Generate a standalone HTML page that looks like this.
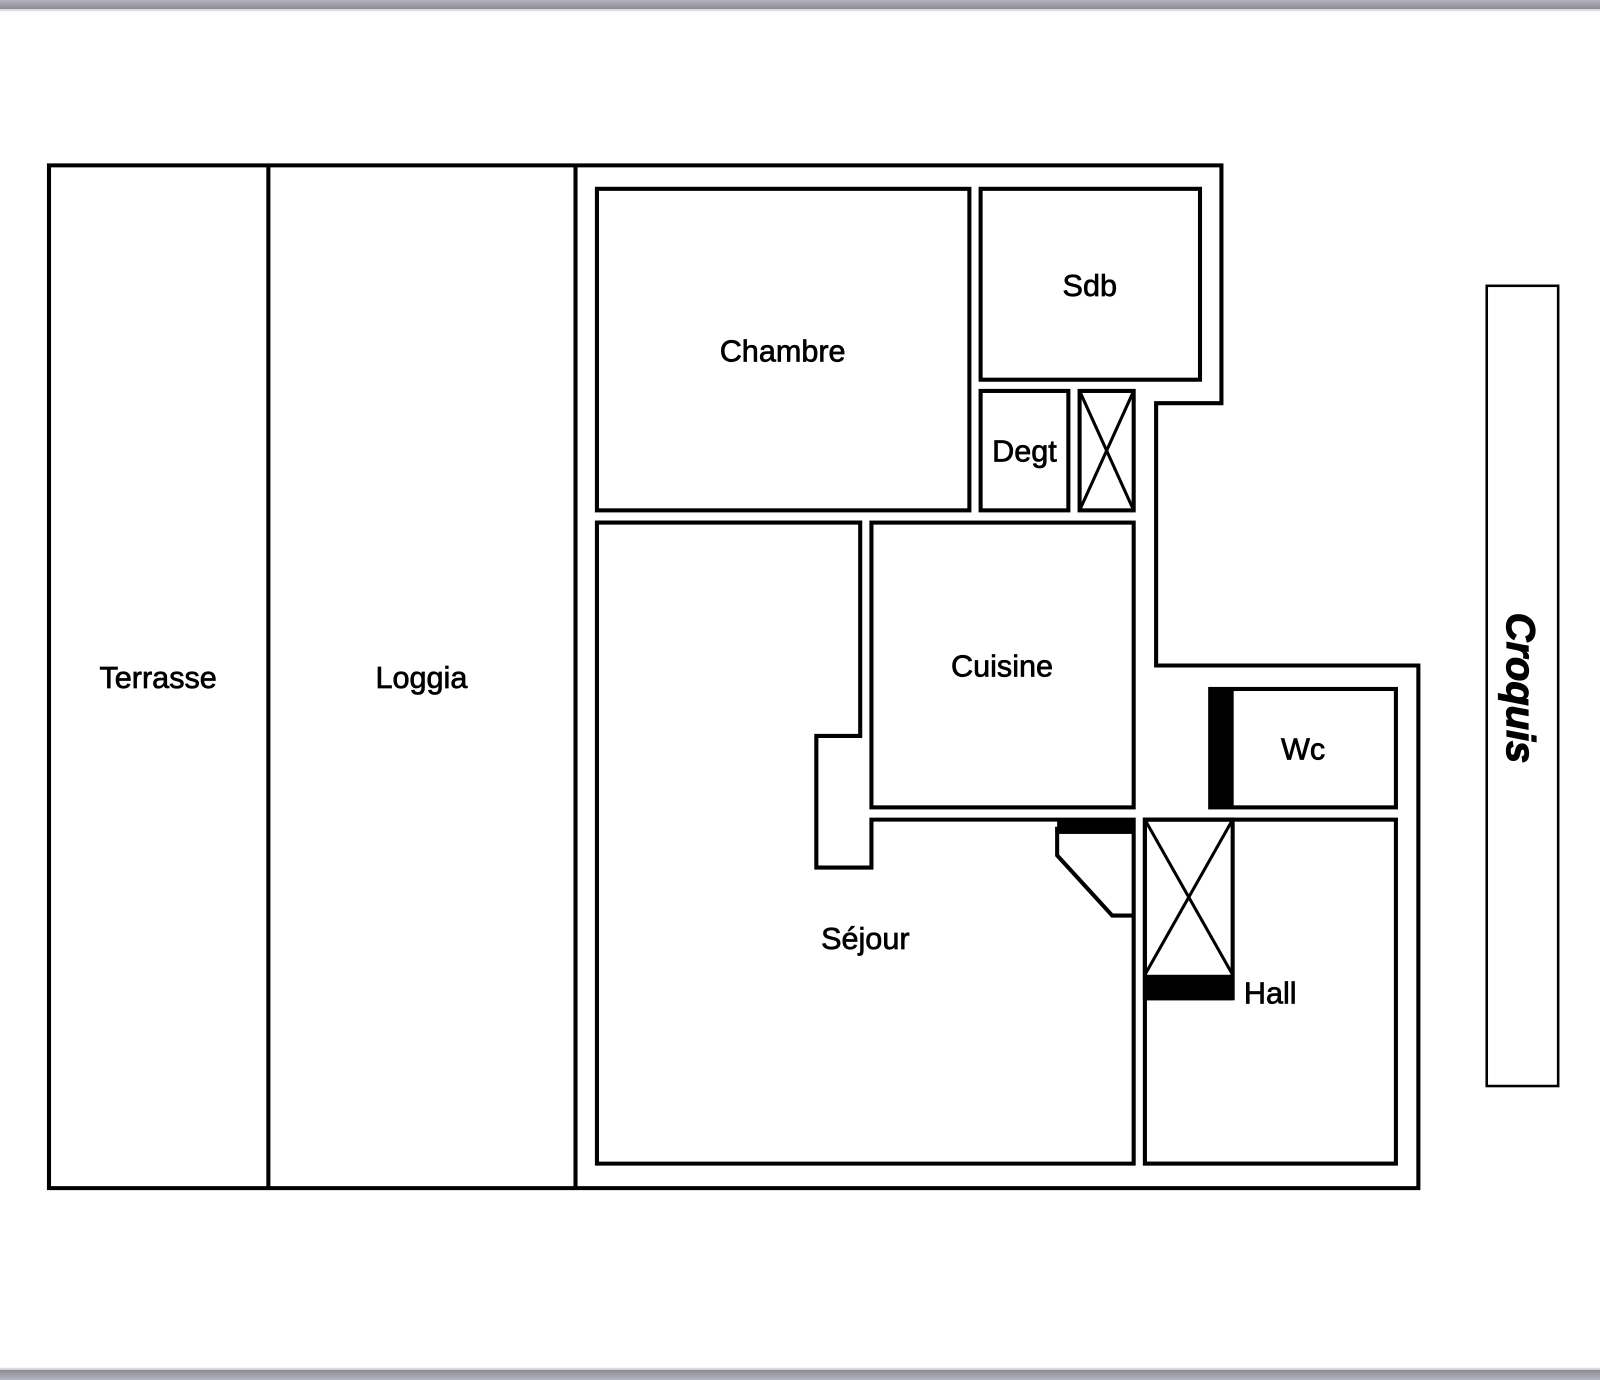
<!DOCTYPE html>
<html><head><meta charset="utf-8"><style>
html,body{margin:0;padding:0;background:#fff;}
svg{display:block;}
text{font-family:"Liberation Sans",Arial,sans-serif;font-size:30px;fill:#000;stroke:#000;stroke-width:0.7px;}
</style></head><body>
<svg width="1600" height="1380" viewBox="0 0 1568 1352" preserveAspectRatio="none" xmlns="http://www.w3.org/2000/svg">
<defs>
<linearGradient id="g" x1="0" y1="0" x2="0" y2="1"><stop offset="0" stop-color="#b4b4c0"/><stop offset="1" stop-color="#8a8a96"/></linearGradient>
<linearGradient id="g2" x1="0" y1="0" x2="0" y2="1"><stop offset="0" stop-color="#8a8a96"/><stop offset="1" stop-color="#b4b4c0"/></linearGradient>
</defs>
<rect x="0" y="0" width="1568" height="1352" fill="#fff"/>
<rect x="0" y="0" width="1568" height="9" fill="url(#g)"/>
<rect x="0" y="9" width="1568" height="2" fill="#ddd"/>
<rect x="0" y="1340" width="1568" height="2" fill="#ddd"/>
<rect x="0" y="1342" width="1568" height="10" fill="url(#g2)"/>
<g fill="none" stroke="#000" stroke-width="4" stroke-linejoin="miter">
<polygon points="48,162 1197,162 1197,395 1133,395 1133,652 1390,652 1390,1164 48,1164"/>
<line x1="263" y1="162" x2="263" y2="1164"/>
<line x1="564" y1="162" x2="564" y2="1164"/>
<rect x="585" y="185" width="365" height="315"/>
<rect x="961" y="185" width="215" height="187"/>
<rect x="961" y="383" width="86" height="117"/>
<rect x="1058" y="383" width="53" height="117"/>
<line x1="1058" y1="383" x2="1111" y2="500" stroke-width="3"/>
<line x1="1111" y1="383" x2="1058" y2="500" stroke-width="3"/>
<polygon points="585,512 843,512 843,721 800,721 800,850 854,850 854,803 1111,803 1111,1140 585,1140"/>
<rect x="854" y="512" width="257" height="279"/>
<rect x="1186" y="675" width="182" height="116"/>
<rect x="1122" y="803" width="246" height="337"/>
<rect x="1122" y="803" width="86" height="175"/>
<line x1="1122" y1="803" x2="1208" y2="955" stroke-width="3"/>
<line x1="1208" y1="803" x2="1122" y2="955" stroke-width="3"/>
<polyline points="1036,810 1036,838 1090,897 1111,897"/>
<rect x="1457" y="280" width="70" height="784" stroke-width="2.5"/>
</g>
<rect x="1186" y="675" width="23" height="116" fill="#000"/>
<rect x="1122" y="955" width="86" height="25" fill="#000"/>
<rect x="1036" y="803" width="75" height="14" fill="#000"/>
<text x="155" y="674" text-anchor="middle">Terrasse</text>
<text x="413" y="674" text-anchor="middle">Loggia</text>
<text x="767" y="354" text-anchor="middle">Chambre</text>
<text x="1068" y="290" text-anchor="middle">Sdb</text>
<text x="1004" y="452" text-anchor="middle">Degt</text>
<text x="982" y="663" text-anchor="middle">Cuisine</text>
<text x="1277" y="744" text-anchor="middle">Wc</text>
<text x="848" y="930" text-anchor="middle">Séjour</text>
<text x="1219" y="983">Hall</text>
<text x="0" y="0" transform="translate(1477,674) rotate(90)" text-anchor="middle" style="font-weight:bold;font-style:italic;font-size:39px;stroke-width:1.2px">Croquis</text>
</svg>
</body></html>
